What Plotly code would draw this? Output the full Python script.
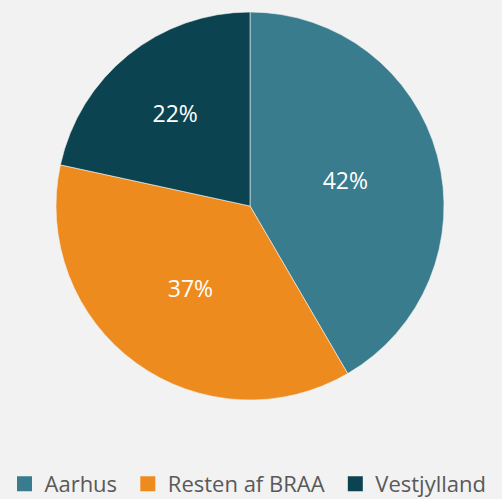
import plotly.graph_objects as go

# Share per region (labels show rounded percentages)
regions = ["Aarhus", "Resten af BRAA", "Vestjylland"]
shares = [41.6, 36.8, 21.6]
colors = ["#397C8E", "#EE8B1F", "#0B4450"]

W, H = 502, 499
BG = "#F2F2F2"

fig = go.Figure()

fig.add_trace(
    go.Pie(
        labels=regions,
        values=shares,
        sort=False,
        direction="clockwise",
        rotation=0,
        marker=dict(colors=colors, line=dict(color=BG, width=0.6)),
        texttemplate="%{percent:.0%}",
        textposition="inside",
        insidetextorientation="horizontal",
        textfont=dict(color="white", size=23, family="Open Sans"),
        hoverinfo="label+percent",
        showlegend=False,
        domain=dict(x=[56 / W, 444 / W], y=[99 / H, 487 / H]),
    )
)

# legend entries with larger square swatches
for name, col in zip(regions, colors):
    fig.add_trace(
        go.Scatter(
            x=[None], y=[None],
            mode="markers",
            name=name + "\u00a0",
            marker=dict(symbol="square", size=15, color=col),
            hoverinfo="skip",
        )
    )

fig.update_xaxes(visible=False)
fig.update_yaxes(visible=False)

fig.update_layout(
    width=W,
    height=H,
    paper_bgcolor=BG,
    plot_bgcolor=BG,
    margin=dict(l=0, r=0, t=0, b=0, autoexpand=False),
    font=dict(family="Open Sans", color="#595959"),
    showlegend=True,
    legend=dict(
        orientation="h",
        x=0.5,
        xanchor="center",
        y=15 / H,
        yanchor="middle",
        font=dict(size=22, color="#595959"),
        itemwidth=30,
        traceorder="normal",
        bgcolor="rgba(0,0,0,0)",
    ),
)

fig.write_html(
    "out.html",
    config={"displayModeBar": False},
    post_script="document.body.style.margin='0';",
)
